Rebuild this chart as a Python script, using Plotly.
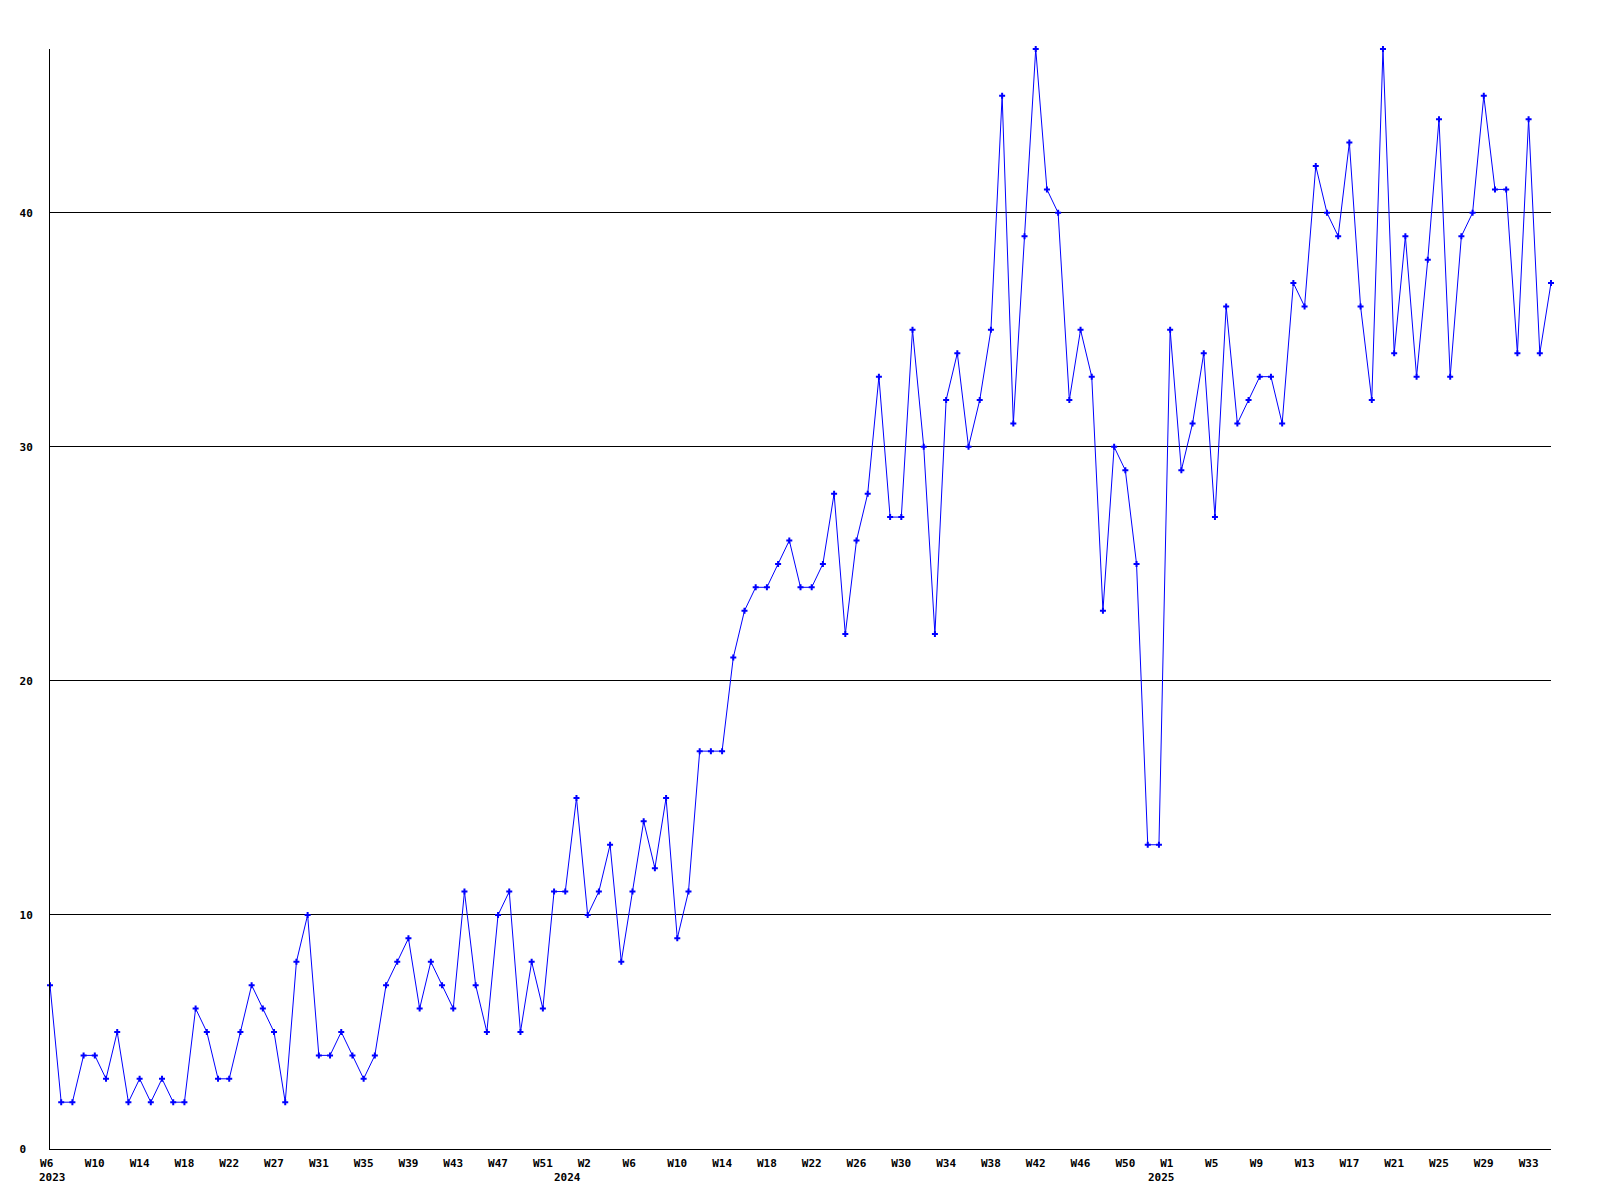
import plotly.graph_objects as go

# Weekly values, 2023 W6 .. 2025 (135 weeks)
values = [
    7, 2, 2, 4, 4, 3, 5, 2, 3, 2,
    3, 2, 2, 6, 5, 3, 3, 5, 7, 6,
    5, 2, 8, 10, 4, 4, 5, 4, 3, 4,
    7, 8, 9, 6, 8, 7, 6, 11, 7, 5,
    10, 11, 5, 8, 6, 11, 11, 15, 10, 11,
    13, 8, 11, 14, 12, 15, 9, 11, 17, 17,
    17, 21, 23, 24, 24, 25, 26, 24, 24, 25,
    28, 22, 26, 28, 33, 27, 27, 35, 30, 22,
    32, 34, 30, 32, 35, 45, 31, 39, 47, 41,
    40, 32, 35, 33, 23, 30, 29, 25, 13, 13,
    35, 29, 31, 34, 27, 36, 31, 32, 33, 33,
    31, 37, 36, 42, 40, 39, 43, 36, 32, 47,
    34, 39, 33, 38, 44, 33, 39, 40, 45, 41,
    41, 34, 44, 34, 37,
]

week_labels = [
    "W6", "W10", "W14", "W18", "W22", "W27", "W31", "W35", "W39", "W43", "W47", "W51",
    "W2", "W6", "W10", "W14", "W18", "W22", "W26", "W30", "W34", "W38", "W42", "W46", "W50",
    "W1", "W5", "W9", "W13", "W17", "W21", "W25", "W29", "W33",
]
week_tick_index = list(range(1, 134, 4))  # every 4th week

years = ["2023", "2024", "2025"]
year_index = [1, 47, 100]

y_tickvals = [0, 10, 20, 30, 40]
y_ticktext = ["0", "10", "20", "30", "40"]

NB = "\u00a0"
x = list(range(1, len(values) + 1))

# pad to emulate left-aligned labels in monospace font
xt = [(t + NB) if len(t) == 2 else t for t in week_labels]
yt = [(t + NB) if len(t) == 1 else t for t in y_ticktext]

font_family = "DejaVu Sans Mono"

fig = go.Figure()
fig.add_trace(go.Scatter(
    x=x, y=values, mode="lines+markers",
    line=dict(color="#0000ff", width=1),
    marker=dict(symbol="cross", size=5, color="#0000ff", line=dict(width=0)),
    cliponaxis=False,
    showlegend=False,
))

annotations = []
for yr, xi in zip(years, year_index):
    annotations.append(dict(
        x=xi, y=0, xref="x", yref="paper", text=yr, showarrow=False,
        xanchor="left", yanchor="middle", xshift=-13, yshift=-28,
        font=dict(family=font_family, size=11, color="black", weight="bold"),
    ))

fig.update_layout(
    width=1600, height=1200,
    margin=dict(l=42, r=57, t=41, b=59),
    paper_bgcolor="white", plot_bgcolor="white",
    font=dict(family=font_family, size=11, color="black", weight="bold"),
    annotations=annotations,
    xaxis=dict(
        range=[1, len(values)],
        tickmode="array", tickvals=week_tick_index, ticktext=xt,
        showgrid=False, zeroline=False,
        showline=True, linecolor="black", linewidth=1,
        ticks="", ticklabelstandoff=4,
        tickfont=dict(family=font_family, size=11, color="black", weight="bold"),
    ),
    yaxis=dict(
        range=[0, 47],
        tickmode="array", tickvals=y_tickvals, ticktext=yt,
        showgrid=True, gridcolor="black", gridwidth=1,
        zeroline=False,
        showline=True, linecolor="black", linewidth=1,
        ticks="", ticklabelstandoff=14,
        tickfont=dict(family=font_family, size=11, color="black", weight="bold"),
    ),
)

fig.write_html("out.html")
